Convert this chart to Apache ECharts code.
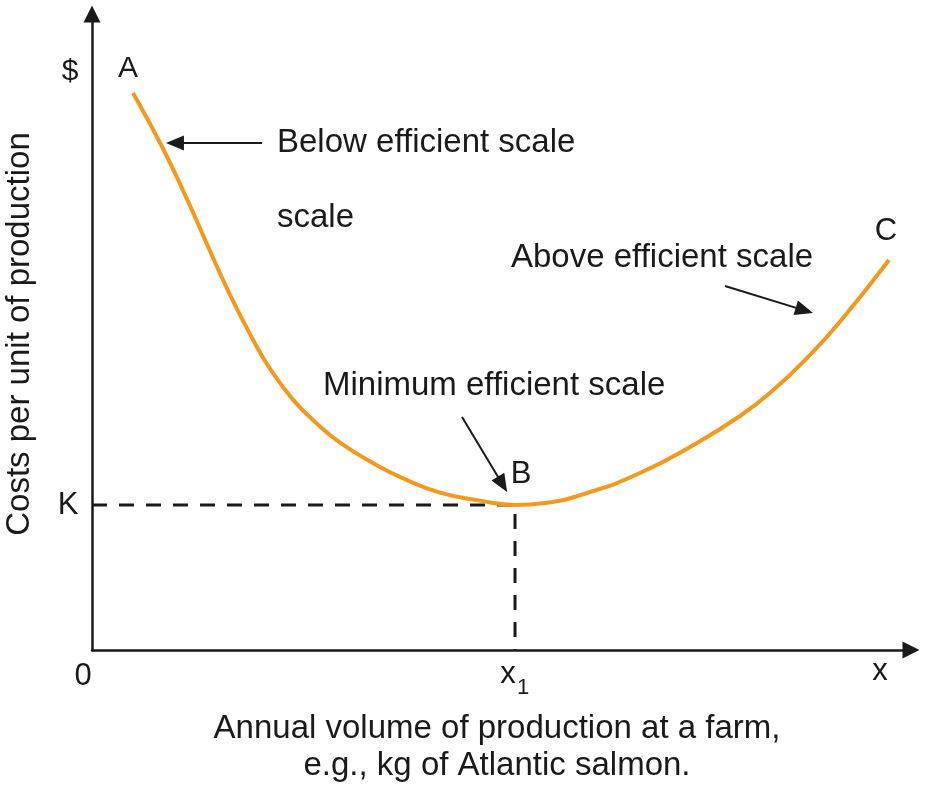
<!DOCTYPE html>
<html>
<head>
<meta charset="utf-8">
<script src="https://cdn.jsdelivr.net/npm/echarts@6/dist/echarts.min.js"></script>
<style>
html,body{margin:0;padding:0;background:#fff;}
#main{width:925px;height:788px;}
</style>
</head>
<body>
<div id="main"></div>
<script>
// Average cost curve (x: annual volume, y: cost per unit), arbitrary 0-100 units
const curveX = [5.01, 8.55, 11.60, 14.04, 16.85, 19.66, 21.73, 24.54, 27.59, 30.28, 34.31, 38.46, 42.49, 47.37, 51.65, 55.31, 60.81, 66.91, 73.02, 79.12, 83.15, 87.30, 91.33, 97.31];
const curveY = [87.58, 79.13, 70.88, 63.81, 55.85, 48.79, 44.25, 39.37, 35.44, 32.61, 29.39, 26.71, 24.75, 23.49, 22.80, 23.11, 24.84, 27.83, 31.92, 36.79, 40.83, 45.91, 51.62, 61.32];
const minCostK = 22.80;
const minVolumeX1 = 51.65;
// annotation arrows: [fromX, fromY, toX, toY]
const arrowBelow = [20.76, 79.72, 10.13, 79.72];
const arrowAbove = [77.29, 57.23, 86.98, 53.40];
const arrowMinimum = [45.18, 36.64, 50.12, 26.05];

const FONT = '"Liberation Sans", Arial, Helvetica, sans-serif';
const INK = '#1a1a1a';
const ORANGE = '#F39A1E';

const chart = echarts.init(document.getElementById('main'), null, {renderer: 'canvas'});

function txt(str, x, y, size, align, extra) {
  return Object.assign({
    type: 'text', x: x, y: y, z: 50,
    style: {text: str, fill: INK, font: size + 'px ' + FONT, textAlign: align || 'center', textVerticalAlign: 'middle'}
  }, extra || {});
}

function arrowLine(a) {
  return [{coord: [a[0], a[1]]}, {coord: [a[2], a[3]]}];
}

const option = {
  backgroundColor: '#fff',
  animation: false,
  grid: {left: 92, right: 14, top: 14, bottom: 138, containLabel: false, outerBoundsMode: 'none'},
  xAxis: {
    type: 'value', min: 0, max: 100,
    axisLine: {show: true, onZero: false, symbol: ['none', 'triangle'], symbolSize: [17, 17], lineStyle: {color: INK, width: 2.5}},
    axisTick: {show: false}, axisLabel: {show: false}, splitLine: {show: false}
  },
  yAxis: {
    type: 'value', min: 0, max: 100,
    axisLine: {show: true, onZero: false, symbol: ['none', 'triangle'], symbolSize: [17, 17], lineStyle: {color: INK, width: 2.5}},
    axisTick: {show: false}, axisLabel: {show: false}, splitLine: {show: false}
  },
  series: [
    {
      type: 'line', z: 2, symbol: 'none', silent: true,
      data: [[0, minCostK], [minVolumeX1, minCostK], [minVolumeX1, 0]],
      lineStyle: {color: INK, width: 3, type: [15, 12]}
    },
    {
      type: 'line', z: 3, symbol: 'none', smooth: 0.5, silent: true,
      data: curveX.map((x, i) => [x, curveY[i]]),
      lineStyle: {color: ORANGE, width: 4}
    },
    {
      type: 'line', z: 4, symbol: 'none', data: [], silent: true,
      markLine: {
        silent: true, animation: false,
        symbol: ['none', 'triangle'], symbolSize: [15, 18],
        label: {show: false},
        lineStyle: {color: INK, width: 2, type: 'solid'},
        data: [arrowLine(arrowBelow), arrowLine(arrowAbove), arrowLine(arrowMinimum)]
      }
    }
  ],
  graphic: [
    txt('$', 70, 72, 30),
    txt('A', 128, 69, 30),
    txt('B', 521, 474, 31),
    txt('C', 886, 231, 31),
    txt('K', 68, 505, 31),
    txt('0', 83, 676, 31),
    txt('x', 508, 674, 31),
    txt('1', 523, 688, 22),
    txt('x', 880, 671, 31),
    txt('Below efficient scale', 277, 143, 33, 'left'),
    txt('scale', 277, 218, 33, 'left'),
    txt('Above efficient scale', 511, 258, 33, 'left'),
    txt('Minimum efficient scale', 323, 386, 33, 'left'),
    txt('Costs per unit of production', 20, 334, 33, 'center', {rotation: Math.PI / 2}),
    txt('Annual volume of production at a farm,', 497, 729, 33),
    txt('e.g., kg of Atlantic salmon.', 497, 766, 33)
  ]
};
chart.setOption(option);
</script>
</body>
</html>
